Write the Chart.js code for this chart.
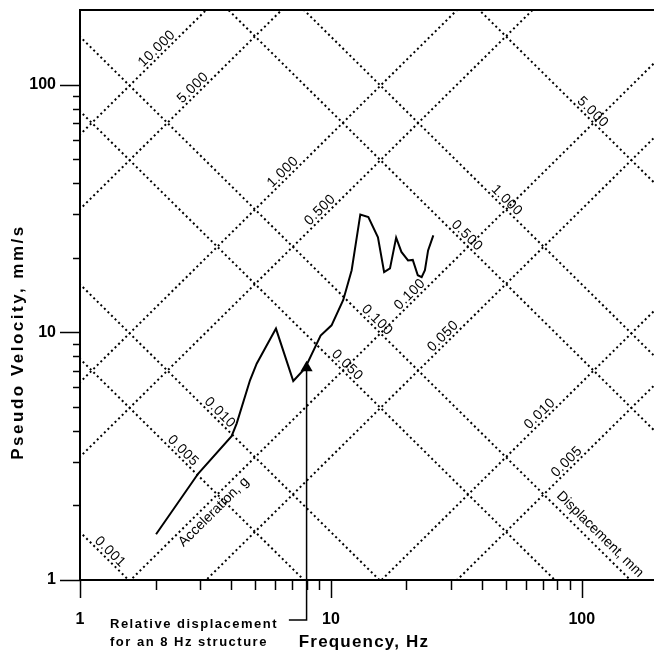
<!DOCTYPE html>
<html>
<head>
<meta charset="utf-8">
<script src="https://cdn.jsdelivr.net/npm/chart.js@4"></script>
<style>
  html, body { margin: 0; padding: 0; background: #fff; }
  #wrap { width: 654px; height: 654px; }
</style>
</head>
<body>
<div id="wrap"><canvas id="myChart"></canvas></div>
<script>
// response spectrum (frequency in Hz, pseudo velocity in mm/s)
const freqHz = [2.01, 2.96, 4.02, 4.21, 4.76, 5.06, 6.04, 7.08, 7.88, 9.1, 10.06, 11.2, 12.1, 13.1, 14.1, 15.4, 16.3, 17.2, 18.2, 19.1, 20.3, 21.2, 22.2, 23.0, 23.7, 24.4, 25.6];
const pseudoVelocity = [1.53, 2.69, 3.81, 4.28, 6.4, 7.47, 10.35, 6.36, 7.14, 9.7, 10.67, 13.5, 17.8, 29.9, 29.2, 24.2, 17.5, 18.1, 24.1, 21.1, 19.5, 19.6, 17.0, 16.7, 17.8, 21.4, 24.6];

// tripartite grid: constant displacement (mm) and constant acceleration (g)
const displacementMm = [10, 5, 1, 0.5, 0.1, 0.05, 0.01, 0.005];
const displacementLabelHz = [2.12, 2.95, 6.74, 9.47, 21.6, 29.3, 71.2, 91.2];
const accelerationG = [5, 1, 0.5, 0.1, 0.05, 0.01, 0.005, 0.001];
const accelerationLabelHz = [105.6, 48.0, 33.3, 14.6, 11.1, 3.45, 2.46, 1.26];

const xTickValues = [1, 2, 3, 4, 5, 6, 7, 8, 9, 10, 20, 30, 40, 50, 60, 70, 80, 90, 100];
const yTickValues = [1, 2, 3, 4, 5, 6, 7, 8, 9, 10, 20, 30, 40, 50, 60, 70, 80, 90, 100];
const xTickLabels = [1, 10, 100];
const yTickLabels = [1, 10, 100];

// arrow marking the 8 Hz structure
const arrowHz = 8;
const arrowTailHz = 6.8;
const arrowBaseVel = 0.69;
const arrowTipVel = 7.2;

const G_MM = 9810;
const velFromDisp = (f, d) => 2 * Math.PI * f * d;
const velFromAcc = (f, a) => a * G_MM / (2 * Math.PI * f);

const FONT = "'Liberation Sans', Arial, sans-serif";
const dotted = { borderColor: '#000', borderWidth: 2, borderDash: [2, 3], pointRadius: 0, pointHoverRadius: 0, fill: false };

const datasets = [];
displacementMm.forEach(d => {
    datasets.push(Object.assign({ data: [0.5, 400].map(f => ({ x: f, y: velFromDisp(f, d) })) }, dotted));
});
accelerationG.forEach(a => {
    datasets.push(Object.assign({ data: [0.5, 400].map(f => ({ x: f, y: velFromAcc(f, a) })) }, dotted));
});
datasets.push({
    data: freqHz.map((f, i) => ({ x: f, y: pseudoVelocity[i] })),
    borderColor: '#000', borderWidth: 2, pointRadius: 0, pointHoverRadius: 0, tension: 0
});
datasets.push({
    data: [{ x: arrowTailHz, y: arrowBaseVel }, { x: arrowHz, y: arrowBaseVel }, { x: arrowHz, y: arrowTipVel }],
    borderColor: '#000', borderWidth: 1.5, clip: false,
    pointRadius: [0, 0, 7], pointHoverRadius: 0, pointStyle: 'triangle', pointBackgroundColor: '#000', pointBorderWidth: 0
});

// rotated label sitting on a diagonal line
function lineLabel(ctx, xs, ys, f, velFn, text, offset) {
    const px = xs.getPixelForValue(f), py = ys.getPixelForValue(velFn(f));
    const px2 = xs.getPixelForValue(f * 2), py2 = ys.getPixelForValue(velFn(f * 2));
    const ang = Math.atan2(py2 - py, px2 - px);
    ctx.save();
    ctx.translate(px, py);
    ctx.rotate(ang);
    ctx.fillText(text, 0, -offset);
    ctx.restore();
}

const decorations = {
    id: 'decorations',
    afterDraw(chart) {
        const ctx = chart.ctx;
        const xs = chart.scales.x, ys = chart.scales.y;
        const area = chart.chartArea;
        ctx.save();
        ctx.strokeStyle = '#000';
        ctx.fillStyle = '#000';

        // top frame
        ctx.lineWidth = 2;
        ctx.beginPath();
        ctx.moveTo(area.left, area.top);
        ctx.lineTo(area.right, area.top);
        ctx.stroke();

        // tick marks, long at decades
        ctx.lineWidth = 1.5;
        xTickValues.forEach(v => {
            const px = Math.round(xs.getPixelForValue(v)) + 0.5;
            const len = xTickLabels.includes(v) ? 18 : 10;
            ctx.beginPath();
            ctx.moveTo(px, area.bottom);
            ctx.lineTo(px, area.bottom + len);
            ctx.stroke();
        });
        yTickValues.forEach(v => {
            const py = Math.round(ys.getPixelForValue(v)) + 0.5;
            const len = yTickLabels.includes(v) ? 20 : 7;
            ctx.beginPath();
            ctx.moveTo(area.left, py);
            ctx.lineTo(area.left - len, py);
            ctx.stroke();
        });

        // labels on the grid lines
        ctx.font = '14px ' + FONT;
        ctx.letterSpacing = '0.5px';
        ctx.textAlign = 'center';
        ctx.textBaseline = 'middle';
        displacementMm.forEach((d, i) => {
            lineLabel(ctx, xs, ys, displacementLabelHz[i], f => velFromDisp(f, d), d.toFixed(3), 7);
        });
        accelerationG.forEach((a, i) => {
            lineLabel(ctx, xs, ys, accelerationLabelHz[i], f => velFromAcc(f, a), a.toFixed(3), 7);
        });
        ctx.letterSpacing = '0px';
        lineLabel(ctx, xs, ys, 3.2, f => velFromDisp(f, 0.1), 'Acceleration, g', -10);
        lineLabel(ctx, xs, ys, 110, f => velFromAcc(f, 0.1), 'Displacement, mm', 11);

        // axis titles
        ctx.font = 'bold 17px ' + FONT;
        ctx.letterSpacing = '1.2px';
        ctx.fillText('Frequency, Hz', 364, 642);
        ctx.save();
        ctx.translate(18, 342);
        ctx.rotate(-Math.PI / 2);
        ctx.letterSpacing = '2.5px';
        ctx.fillText('Pseudo Velocity, mm/s', 0, 0);
        ctx.restore();

        // arrow caption
        ctx.font = 'bold 13px ' + FONT;
        ctx.textAlign = 'left';
        ctx.letterSpacing = '1.5px';
        ctx.fillText('Relative displacement', 110, 624);
        ctx.fillText('for an 8 Hz structure', 110, 642);
        ctx.restore();
    }
};

const ctx = document.getElementById('myChart');
new Chart(ctx, {
    type: 'line',
    data: { datasets: datasets },
    options: {
        responsive: true,
        maintainAspectRatio: false,
        devicePixelRatio: 1,
        animation: false,
        events: [],
        layout: { autoPadding: false, padding: { top: 10, right: 0, left: 0, bottom: 0 } },
        plugins: { legend: { display: false }, tooltip: { enabled: false } },
        scales: {
            x: {
                type: 'logarithmic',
                position: 'bottom',
                min: 1,
                max: 194,
                afterBuildTicks: axis => { axis.ticks = xTickValues.map(v => ({ value: v })); },
                afterFit: axis => { axis.height = 74; axis.paddingLeft = 0; axis.paddingRight = 0; },
                grid: { display: true, drawOnChartArea: false, drawTicks: false },
                border: { display: true, color: '#000', width: 2 },
                ticks: {
                    autoSkip: false, maxRotation: 0, padding: 30, color: '#000',
                    font: { family: FONT, size: 16, weight: 'bold' },
                    callback: v => xTickLabels.includes(v) ? String(v) : ''
                }
            },
            y: {
                type: 'logarithmic',
                position: 'left',
                min: 1,
                max: 200,
                afterBuildTicks: axis => { axis.ticks = yTickValues.map(v => ({ value: v })); },
                afterFit: axis => { axis.width = 80; axis.paddingTop = 0; axis.paddingBottom = 0; },
                grid: { display: true, drawOnChartArea: false, drawTicks: false },
                border: { display: true, color: '#000', width: 2 },
                ticks: {
                    autoSkip: false, padding: 24, color: '#000',
                    font: { family: FONT, size: 16, weight: 'bold' },
                    callback: v => yTickLabels.includes(v) ? String(v) : ''
                }
            }
        }
    },
    plugins: [decorations]
});
</script>
</body>
</html>
